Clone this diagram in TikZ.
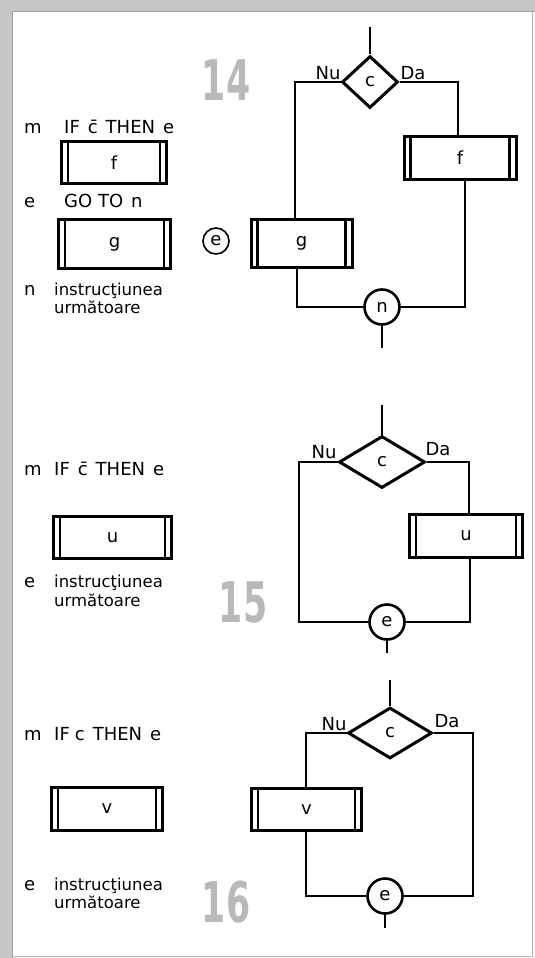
\documentclass[tikz,border=0pt]{standalone}
\usepackage{fontspec}
\usepackage{graphicx}
\setmainfont{DejaVu Sans}
\usetikzlibrary{shapes.geometric}
\newcommand{\wsp}{\hspace{8pt}}
\begin{document}
\begin{tikzpicture}[x=1pt,y=-1pt,
  every node/.style={font=\fontsize{18}{19}\selectfont, inner sep=0pt},
  line/.style={line width=2.8pt},
  txt/.style={anchor=base west},
  smalltxt/.style={anchor=base west, font=\fontsize{16.5}{17}\selectfont},
  lbl/.style={anchor=base},
  bignum/.style={font=\fontsize{56}{56}\selectfont\bfseries, text=gray!55},
  decision/.style={diamond, draw, line width=3pt, fill=white},
  connector/.style={circle, draw, line width=2.6pt, minimum size=35pt, fill=white},
  procbox/.style={draw, line width=3pt, rectangle, fill=white,
    path picture={
      \draw[line width=2.2pt] ([xshift=6.5pt]path picture bounding box.north west) -- ([xshift=6.5pt]path picture bounding box.south west);
      \draw[line width=2.2pt] ([xshift=-6.5pt]path picture bounding box.north east) -- ([xshift=-6.5pt]path picture bounding box.south east);
    }}
]
\useasboundingbox (0,0) rectangle (535,958);
% frame
\fill[gray!45] (0,0) rectangle (535,12);
\fill[gray!45] (0,0) rectangle (12,958);
\draw[gray!75, line width=1pt] (12,958) -- (12,12) -- (535,12);
\draw[gray!60, line width=0.8pt] (532,12) -- (532,956) -- (12,956);

% ===== 14 =====
\node[bignum] (n14num) at (226,80) {\scalebox{0.62}[1]{14}};
\node[txt] (m14) at (24,133) {m};
\node[txt] (if14) at (64,133) {IF\wsp\={c}\wsp THEN\wsp e};
\node[procbox, minimum width=105pt, minimum height=42pt] (f14) at (114,162.5) {f};
\node[txt] (e14) at (24,207) {e};
\node[txt] (goto14) at (64,207) {GO TO\wsp n};
\node[procbox, minimum width=112pt, minimum height=49pt] (g14) at (114.5,244) {g};
\node[txt] (nn14) at (24,295) {n};
\node[smalltxt] (ins14) at (54,295) {instrucţiunea};
\node[smalltxt] (urm14) at (54,313) {următoare};

\node[decision, minimum width=56pt, minimum height=52pt] (d14) at (370,82) {c};
\node[lbl] (nu14) at (328,80) {Nu};
\node[lbl] (da14) at (413,80) {Da};
\node[procbox, minimum width=112pt, minimum height=43pt] (f14r) at (460,157.5) {f};
\node[procbox, minimum width=101pt, minimum height=48pt] (g14r) at (301.5,243) {g};
\node[circle, draw, line width=1.6pt, minimum size=26pt] (e14c) at (216,241) {e};
\node[connector] (n14) at (382,307) {n};
\coordinate (t14) at (370,27);
\coordinate (L14) at (295,82);
\coordinate (R14) at (458,82);
\coordinate (Lb14) at (297,307);
\coordinate (Rb14) at (465,307);
\coordinate (b14) at (382,348);
\draw[line] (t14) -- (d14.north);
\draw[line] (d14.west) -- (L14) -- (L14 |- g14r.north);
\draw[line] (d14.east) -- (R14) -- (R14 |- f14r.north);
\draw[line] (Lb14 |- g14r.south) -- (Lb14) -- (n14.west);
\draw[line] (Rb14 |- f14r.south) -- (Rb14) -- (n14.east);
\draw[line] (n14.south) -- (b14);

% ===== 15 =====
\node[bignum] (n15num) at (243,602) {\scalebox{0.62}[1]{15}};
\node[txt] (m15) at (24,475) {m};
\node[txt] (if15) at (54,475) {IF\wsp\={c}\wsp THEN\wsp e};
\node[procbox, minimum width=118pt, minimum height=42pt] (u15) at (112.5,537.5) {u};
\node[txt] (e15t) at (24,587) {e};
\node[smalltxt] (ins15) at (54,587) {instrucţiunea};
\node[smalltxt] (urm15) at (54,606) {următoare};

\node[decision, minimum width=86pt, minimum height=52pt] (d15) at (382,462) {c};
\node[lbl] (nu15) at (324,458) {Nu};
\node[lbl] (da15) at (438,455) {Da};
\node[procbox, minimum width=113pt, minimum height=43pt] (u15r) at (466,536) {u};
\node[connector] (e15) at (387,622) {e};
\coordinate (t15) at (382,405);
\coordinate (L15) at (299,462);
\coordinate (R15) at (469,462);
\coordinate (Rb15) at (470,622);
\coordinate (b15) at (387,653);
\draw[line] (t15) -- (d15.north);
\draw[line] (d15.west) -- (L15) -- (L15 |- e15) -- (e15.west);
\draw[line] (d15.east) -- (R15) -- (R15 |- u15r.north);
\draw[line] (Rb15 |- u15r.south) -- (Rb15) -- (e15.east);
\draw[line] (e15.south) -- (b15);

% ===== 16 =====
\node[bignum] (n16num) at (226,902) {\scalebox{0.62}[1]{16}};
\node[txt] (m16) at (24,740) {m};
\node[txt] (if16) at (54,740) {IF\hspace{5pt}c\wsp THEN\wsp e};
\node[procbox, minimum width=111pt, minimum height=43pt] (v16) at (107,809) {v};
\node[txt] (e16t) at (24,890) {e};
\node[smalltxt] (ins16) at (54,890) {instrucţiunea};
\node[smalltxt] (urm16) at (54,908) {următoare};

\node[decision, minimum width=84pt, minimum height=51pt] (d16) at (390,733) {c};
\node[lbl] (nu16) at (334,730) {Nu};
\node[lbl] (da16) at (447,727) {Da};
\node[procbox, minimum width=110pt, minimum height=42pt] (v16r) at (306.5,809.5) {v};
\node[connector] (e16) at (385,896) {e};
\coordinate (t16) at (390,680);
\coordinate (L16) at (306,733);
\coordinate (R16) at (473,733);
\coordinate (Lb16) at (306,896);
\coordinate (b16) at (385,928);
\draw[line] (t16) -- (d16.north);
\draw[line] (d16.west) -- (L16) -- (L16 |- v16r.north);
\draw[line] (Lb16 |- v16r.south) -- (Lb16) -- (e16.west);
\draw[line] (d16.east) -- (R16) -- (R16 |- e16) -- (e16.east);
\draw[line] (e16.south) -- (b16);
\end{tikzpicture}
\end{document}
